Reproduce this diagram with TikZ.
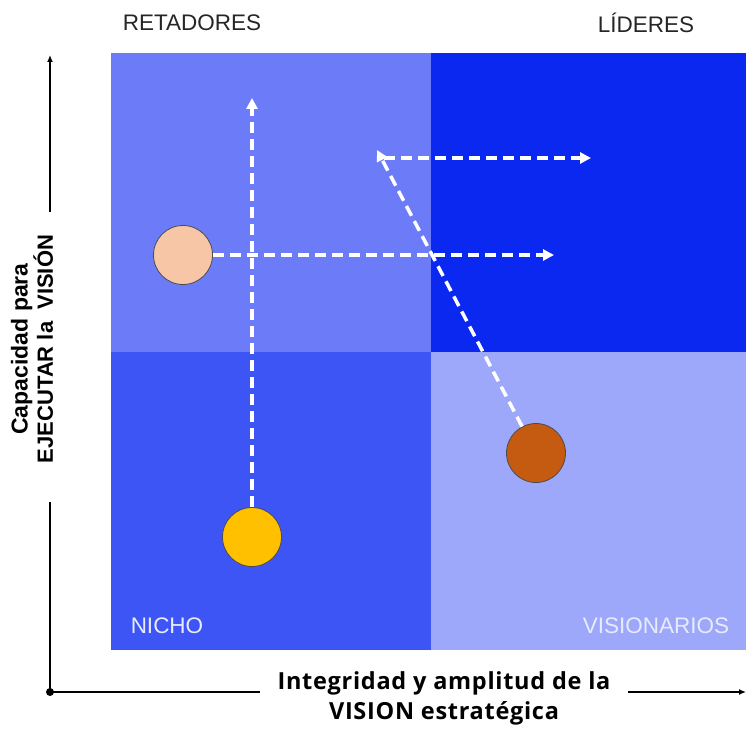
\documentclass[tikz,border=0pt]{standalone}
\usepackage{fontspec}
\setmainfont{Liberation Sans}
\newfontfamily\xfont[LetterSpace=3]{Open Sans}
\usetikzlibrary{arrows.meta}
\definecolor{qTL}{RGB}{108,124,248}
\definecolor{qTR}{RGB}{10,40,240}
\definecolor{qBL}{RGB}{61,85,245}
\definecolor{qBR}{RGB}{157,168,250}
\definecolor{peach}{RGB}{246,198,166}
\definecolor{gold}{RGB}{255,192,0}
\definecolor{rust}{RGB}{197,90,17}
\definecolor{lbl}{RGB}{232,235,255}
\tikzset{
  toplab/.style={font=\fontsize{22.5}{26}\selectfont, text=black!85},
  quadlab/.style={font=\fontsize{22.5}{26}\selectfont, text=lbl},
  axisline/.style={line width=1.3pt, black},
  flow/.style={white, line width=3.5pt, dash pattern=on 11pt off 6pt, -{Triangle[length=11pt,width=11pt]}},
  ball/.style={circle, draw=black!70, line width=0.8pt, minimum size=59pt, inner sep=0pt}
}
\begin{document}
\begin{tikzpicture}[x=1pt,y=-1pt]
\useasboundingbox (0,0) rectangle (746,730);
% quadrants
\fill[qTL] (111,53) rectangle (431,352);
\fill[qTR] (431,53) rectangle (746,352);
\fill[qBL] (111,352) rectangle (431,650);
\fill[qBR] (431,352) rectangle (746,650);
% labels
\node[toplab] (ret) at (192,23) {RETADORES};
\node[toplab] (lid) at (646,23) {LÍDERES};
\node[quadlab] (nicho) at (167,626) {NICHO};
\node[quadlab] (vis) at (656,626) {VISIONARIOS};
\node[rotate=90, align=center, font=\bfseries] (ylab) at (32,349) {{\fontsize{23}{29}\selectfont Capacidad para}\\{\fontsize{22}{29}\selectfont EJECUTAR la\ \ VISIÓN}};
\node[align=center, font=\xfont\bfseries\fontsize{23.5}{30}\selectfont] (xlab) at (444,698) {Integridad y amplitud de la\\VISION estratégica};
% axes
\coordinate (O) at (50,692);
\coordinate (ytop) at (50,55);
\coordinate (yhi) at (50,212);
\coordinate (ylo) at (50,502);
\coordinate (xl) at (260,692);
\coordinate (xr) at (628,692);
\coordinate (xend) at (746,692);
\draw[axisline, -{Latex[length=7pt,width=6pt]}] (yhi) -- (ytop);
\draw[axisline] (ylo) -- (O) -- (xl);
\draw[axisline, -{Latex[length=7pt,width=6pt]}] (xr) -- (xend);
\node[circle, fill=black, inner sep=0pt, minimum size=8pt] (odot) at (O) {};
% circles
\node[ball, fill=peach] (p) at (183,255) {};
\node[ball, fill=gold] (y) at (252,537) {};
\node[ball, fill=rust] (r) at (536,453) {};
% dashed arrows
\coordinate (ytip) at (252,98);
\coordinate (ptip) at (554,255);
\coordinate (rtip) at (377,150);
\coordinate (hstart) at (384,158);
\coordinate (htip) at (591,158);
\draw[flow] (y) -- (ytip);
\draw[flow] (p) -- (ptip);
\draw[flow] (r) -- (rtip);
\draw[flow] (hstart) -- (htip);
\end{tikzpicture}
\end{document}
